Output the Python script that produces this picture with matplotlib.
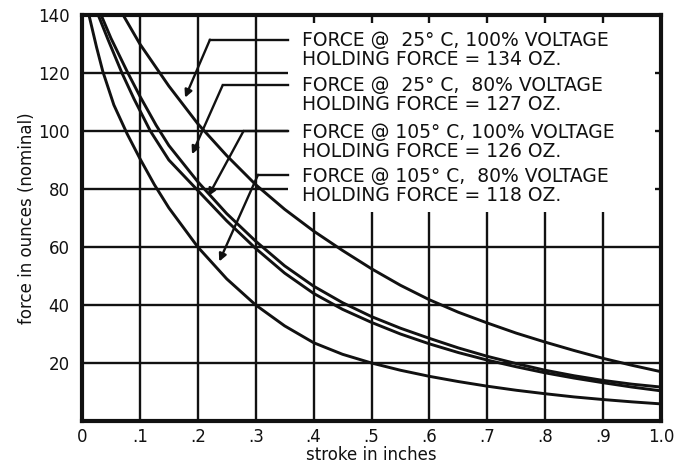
import matplotlib
matplotlib.use("Agg")
import matplotlib.pyplot as plt
from matplotlib.patches import Rectangle

# curves: stroke (in) vs force (oz)
top_x = [0.071, 0.10, 0.15, 0.20, 0.25, 0.30, 0.35, 0.40, 0.45, 0.50, 0.55, 0.60,
         0.65, 0.70, 0.75, 0.80, 0.85, 0.90, 0.95, 1.00]
top_y = [140, 130, 115.5, 102.5, 91.5, 81.5, 73, 65.5, 58.8, 52.5, 46.8, 41.8,
         37.5, 33.8, 30.3, 27.2, 24.3, 21.6, 19.2, 17]

upper_pair_x = [0.033, 0.05, 0.078, 0.10, 0.128, 0.15, 0.20, 0.25, 0.30, 0.35, 0.40, 0.45,
                0.50, 0.55, 0.60, 0.65, 0.70, 0.75, 0.80, 0.85, 0.90, 0.95, 1.00]
upper_pair_y = [140, 132, 120.5, 112, 102, 95, 82.5, 71.5, 62, 53.5, 46.5, 40.8,
                36, 32, 28.5, 25.2, 22.3, 19.8, 17.5, 15.6, 14, 12.7, 11.7]

lower_pair_x = [0.028, 0.045, 0.069, 0.09, 0.118, 0.15, 0.20, 0.25, 0.30, 0.35, 0.40, 0.45,
                0.50, 0.55, 0.60, 0.65, 0.70, 0.75, 0.80, 0.85, 0.90, 0.95, 1.00]
lower_pair_y = [140, 131.5, 120, 111, 100, 90, 79.5, 69, 59.5, 51, 44, 38.5,
                34, 30, 26.6, 23.6, 21, 18.7, 16.6, 14.8, 13.2, 11.7, 10.4]

bottom_x = [0.012, 0.025, 0.036, 0.055, 0.078, 0.10, 0.125, 0.15, 0.20, 0.25, 0.30, 0.35,
            0.40, 0.45, 0.50, 0.55, 0.60, 0.65, 0.70, 0.75, 0.80, 0.85, 0.90, 0.95, 1.00]
bottom_y = [140, 129, 120.5, 109, 99, 90.5, 81.5, 73.5, 60, 49, 40, 32.8,
            27, 23, 20, 17.5, 15.4, 13.6, 12, 10.6, 9.4, 8.3, 7.4, 6.6, 5.9]

x_ticks = [0, 0.1, 0.2, 0.3, 0.4, 0.5, 0.6, 0.7, 0.8, 0.9, 1.0]
x_labels = ["0", ".1", ".2", ".3", ".4", ".5", ".6", ".7", ".8", ".9", "1.0"]
y_ticks = [20, 40, 60, 80, 100, 120, 140]

label_lines = [
    ("FORCE @  25\u00b0 C, 100% VOLTAGE", "HOLDING FORCE = 134 OZ."),
    ("FORCE @  25\u00b0 C,  80% VOLTAGE", "HOLDING FORCE = 127 OZ."),
    ("FORCE @ 105\u00b0 C, 100% VOLTAGE", "HOLDING FORCE = 126 OZ."),
    ("FORCE @ 105\u00b0 C,  80% VOLTAGE", "HOLDING FORCE = 118 OZ."),
]
label_y = [131.2, 115.6, 99.6, 84.3]
# leader corner and arrow tip for each label
leader_corner = [(0.221, 131.5), (0.243, 115.8), (0.279, 100), (0.304, 84.9)]
arrow_tip = [(0.178, 111.5), (0.19, 92.0), (0.218, 77.5), (0.237, 55.0)]

INK = "#111111"

fig = plt.figure(figsize=(6.9, 4.66), dpi=100)
ax = fig.add_axes([82 / 690, 1 - 421 / 466, (661 - 82) / 690, (421 - 15) / 466])

ax.set_xlim(0, 1.0)
ax.set_ylim(0, 140)
ax.set_xticks(x_ticks)
ax.set_xticklabels(x_labels)
ax.set_yticks(y_ticks)
ax.tick_params(length=0, labelsize=12, colors=INK)
ax.tick_params(axis="y", pad=9)
ax.tick_params(axis="x", pad=5)
ax.grid(True, color=INK, lw=1.7)
ax.set_axisbelow(True)
for s in ax.spines.values():
    s.set_linewidth(3.0)
    s.set_color(INK)

# blank area behind the labels
ax.add_patch(Rectangle((0.356, 72.2), 0.634, 65.0, facecolor="white", edgecolor="none", zorder=1.5))

for xs, ys in [(top_x, top_y), (upper_pair_x, upper_pair_y),
               (lower_pair_x, lower_pair_y), (bottom_x, bottom_y)]:
    ax.plot(xs, ys, color=INK, lw=2.1, zorder=3, solid_capstyle="round", solid_joinstyle="round")

for (l1, l2), yy in zip(label_lines, label_y):
    ax.text(0.38, yy, l1, fontsize=13.5, color=INK, va="center", ha="left", zorder=4)
    ax.text(0.38, yy - 6.6, l2, fontsize=13.5, color=INK, va="center", ha="left", zorder=4)

for (cx, cy), (tx, ty) in zip(leader_corner, arrow_tip):
    ax.plot([cx, 0.356], [cy, cy], color=INK, lw=1.7, zorder=3)
    ax.annotate("", xy=(tx, ty), xytext=(cx, cy),
                arrowprops=dict(arrowstyle="-|>", color=INK, lw=1.7,
                                mutation_scale=11, shrinkA=0, shrinkB=0), zorder=4)

ax.set_xlabel("stroke in inches", fontsize=12, color=INK, labelpad=0)
ax.set_ylabel("force in ounces (nominal)", fontsize=12, color=INK, labelpad=1)

fig.savefig("out.png", dpi=100)
